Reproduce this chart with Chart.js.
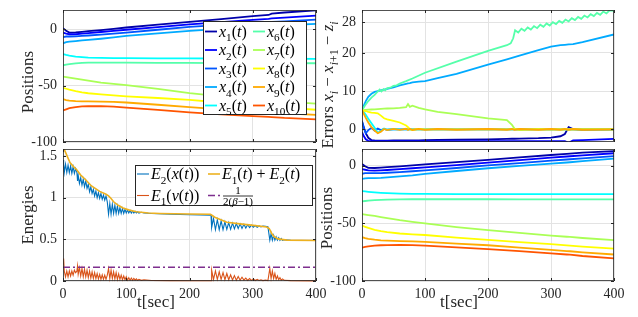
<!DOCTYPE html>
<html>
<head>
<meta charset="utf-8">
<script src="https://cdn.jsdelivr.net/npm/chart.js@4.4.1/dist/chart.umd.min.js"></script>
<style>
  html, body { margin: 0; padding: 0; background: #fff; }
  #fig { position: relative; width: 638px; height: 317px; overflow: hidden; }
  #fig canvas { position: absolute; }
</style>
</head>
<body>
<div id="fig">
  <canvas id="tl" width="320" height="150" style="left:0;top:0"></canvas>
  <canvas id="tr" width="318" height="170" style="left:320px;top:0"></canvas>
  <canvas id="bl" width="340" height="169" style="left:0;top:148px"></canvas>
  <canvas id="br" width="318" height="169" style="left:320px;top:148px"></canvas>
</div>
<script>
// --- data: positions (top-left, jagged controller) ---
const pT = [0, 5, 10, 20, 30, 40, 60, 80, 100, 150, 200, 250, 300, 325, 330, 350, 400];
const x1 = [1, -1.5, -3, -2.8, -2.3, -1.8, -0.8, 0.3, 1.5, 4.0, 6.5, 9.0, 11.5, 12.6, 13.8, 14.8, 16.6];
const x2 = [-3, -4, -4.5, -4.5, -4.0, -3.5, -2.5, -1.5, -0.5, 1.8, 4.2, 6.2, 8.2, 9.1, 9.5, 10.3, 12.0];
const x3 = [-7, -6.5, -6.5, -6.4, -6.0, -5.6, -4.8, -3.9, -3.0, -0.5, 2.0, 3.8, 5.5, 6.2, 6.4, 7.0, 8.4];
const x4 = [-12.5, -11.5, -11, -10.5, -10.0, -9.5, -8.5, -7.3, -6.0, -3.7, -1.5, 0.3, 2.0, 2.7, 2.9, 3.5, 4.7];
const x5 = [-22, -22.8, -23.5, -24.3, -24.8, -25.2, -25.5, -25.6, -25.7, -25.8, -25.9, -26, -26, -26.1, -26.1, -26.2, -26.3];
const x6 = [-32, -31.4, -30.9, -30.3, -29.9, -29.6, -29.6, -29.7, -29.7, -29.8, -29.9, -30, -30, -30, -30, -30.1, -30.2];
const x7 = [-42, -42.4, -42.9, -43.8, -44.7, -45.6, -47.3, -48.5, -49.5, -53, -56.6, -59.5, -62, -63, -63.3, -64.2, -66];
const x8 = [-52, -52.8, -53.6, -55, -56, -56.8, -57.8, -58.7, -59.5, -61, -62.6, -65, -67.5, -68.3, -68.5, -69.5, -71.4];
const x9 = [-62, -62.8, -63.3, -63.8, -64, -64, -64.2, -64.5, -65, -67, -69, -71, -72.8, -73.5, -73.7, -74.5, -76];
const x10 = [-72, -71, -70, -69, -68.5, -68.3, -68.2, -68.6, -69.5, -71.5, -73.8, -75.5, -77, -77.7, -77.9, -78.7, -80];

// --- data: positions (bottom-right, smooth) ---
const b1 = [1.5, -0.5, -1.8, -2.0, -1.6, -1.2, -0.5, 0.3, 1.2, 3.2, 5.0, 7.2, 9.3, 10.3, 10.5, 11.3, 12.7];
const b2 = [-3, -3.5, -4, -4.2, -4.0, -3.7, -3.0, -2.2, -1.4, 0.6, 2.7, 4.8, 7.0, 8.0, 8.2, 9.0, 10.8];
const b3 = [-7, -6.5, -6.4, -6.5, -6.4, -6.1, -5.5, -4.8, -4.0, -2.0, 0.3, 2.2, 4.4, 5.4, 5.6, 6.4, 8.4];
const b4 = [-11.5, -11, -10.8, -10.7, -10.5, -10.1, -9.3, -8.3, -7.0, -4.6, -2.2, -0.2, 1.8, 2.8, 3.0, 4.0, 6.2];
const b5 = [-22, -22.3, -22.6, -23.1, -23.5, -23.8, -24.2, -24.4, -24.5, -24.6, -24.7, -24.7, -24.7, -24.7, -24.7, -24.7, -24.7];
const b6 = [-31, -30.6, -30.3, -29.9, -29.6, -29.4, -29.2, -29.1, -29.1, -29.1, -29.1, -29.2, -29.2, -29.2, -29.2, -29.2, -29.2];
const b7 = [-42, -42.4, -42.8, -43.6, -44.5, -45.4, -47.2, -48.7, -50, -53.2, -55.8, -58.3, -60.6, -61.6, -61.8, -62.7, -64.5];
const b8 = [-52, -53, -54, -55.6, -56.8, -57.6, -58.8, -59.5, -60.1, -62.3, -64.3, -66.2, -68.1, -69.1, -69.3, -70.2, -72];
const b9 = [-62, -62.8, -63.4, -64.2, -64.7, -65, -65.4, -65.7, -66.1, -67.5, -69, -71, -73, -74, -74.2, -75.1, -77];
const b10 = [-71, -70.4, -69.9, -69.3, -69, -68.8, -68.7, -68.9, -69.4, -70.8, -72.3, -74, -76, -77, -77.2, -78.3, -80.3];

// --- data: errors x_i - x_{i+1} - z_i (top-right) ---
const rT = [0, 3, 6, 10, 15, 20, 25, 30, 35, 40, 50, 60, 70, 73, 76, 80, 90, 100, 120, 150, 200, 230, 238, 242, 250, 280, 300, 315, 322, 328, 335, 350, 400];
const e1 = [2.0, 0.5, -1.0, -2.2, -2.8, -2.9, -2.95, -2.95, -2.95, -2.95, -2.9, -2.9, -2.9, -2.9, -2.9, -2.85, -2.85, -2.8, -2.75, -2.7, -2.6, -2.5, -2.45, -2.45, -2.4, -2.3, -2.15, -1.8, -1.2, 0.6, 0.1, -0.1, 0.0];
const e2 = [-0.7, -1.8, -2.6, -3.0, -3.1, -3.1, -3.1, -3.1, -3.1, -3.1, -3.1, -3.1, -3.1, -3.1, -3.1, -3.1, -3.1, -3.1, -3.1, -3.1, -3.1, -3.1, -3.1, -3.1, -3.1, -3.1, -3.1, -3.1, -3.1, -3.5, -2.9, -2.8, -2.5];
const e3 = [2.2, 0.3, -1.0, -0.2, 0.4, -0.3, 0.2, -0.2, 0.1, -0.1, 0, 0, 0, 0, 0, 0, 0, 0, 0, 0, 0, 0, 0, 0, 0, 0, 0, 0, 0, 0, 0, 0, 0];
const e4 = [5.0, 6.3, 7.4, 8.5, 9.3, 9.8, 10.0, 10.2, 10.4, 10.6, 11.0, 11.5, 11.9, 12.0, 12.1, 12.3, 12.5, 12.6, 13.4, 14.5, 16.9, 18.3, 18.7, 18.9, 19.3, 20.7, 21.6, 22.0, 22.1, 22.2, 22.3, 22.8, 24.8];
const e5 = [5.0, 4.5, 3.8, 2.8, 1.6, 0.4, -0.9, -0.4, 0.2, -0.1, 0.1, 0, 0, 0, 0, 0, 0, 0, 0, 0, 0, 0, 0, 0, 0, 0, 0, 0, 0, 0, 0, 0, 0];
const e7 = [5.0, 5.05, 5.1, 5.15, 5.2, 5.25, 5.3, 5.35, 5.4, 5.45, 5.5, 5.6, 5.8, 6.6, 5.9, 6.2, 5.6, 5.2, 4.6, 4.0, 2.9, 2.4, 1.2, 0.2, -0.2, 0.1, 0, 0, 0, 0, 0, 0, 0];
const e8 = [5.0, 4.9, 4.8, 4.6, 4.4, 4.3, 4.2, 3.6, 2.9, 2.6, 2.2, 1.8, 1.0, 0.6, 0.0, -0.1, 0.1, 0, 0, 0, 0, 0, 0, 0, 0, 0, 0, 0, 0, 0, 0, 0, 0];
const e9 = [5.0, 4.0, 3.0, 1.8, 0.6, -0.3, -1.0, -0.6, 0.1, -0.2, 0.15, -0.15, 0.15, -0.15, 0.15, -0.15, 0.15, -0.15, 0.1, -0.1, 0.1, -0.1, 0.1, -0.1, 0.1, -0.1, 0.1, -0.1, 0.1, -0.1, 0.1, -0.1, 0];
// the growing green error has its own, denser time base (it wiggles)
const gT = [0, 5, 10, 15, 20, 25, 28, 31, 34, 37, 40, 45, 50, 55, 60, 70, 80, 100, 150, 200, 230, 236, 240,
  243, 248, 253, 258, 263, 268, 273, 278, 283, 288, 293, 298, 303, 308, 313, 318, 323, 328, 333, 338, 343,
  348, 353, 358, 363, 368, 373, 378, 383, 388, 393, 400];
const e6 = [5.0, 6.3, 7.4, 8.3, 9.0, 9.9, 10.4, 9.9, 10.5, 10.2, 10.8, 10.9, 11.4, 11.5, 12.0, 12.6, 13.3, 14.8, 17.7, 20.5, 22.0, 22.5, 23.8,
  25.9, 25.3, 26.3, 25.75, 26.65, 26.1, 27.0, 26.45, 27.35, 26.8, 27.7, 27.15, 28.0, 27.5, 28.35, 27.85, 28.7,
  28.2, 29.05, 28.55, 29.4, 28.9, 29.75, 29.25, 30.1, 29.6, 30.45, 29.95, 30.8, 30.3, 31.1, 31.0];

// --- data: energies (bottom-left) ---
const eT = [0, 1, 2, 4, 6, 8, 10, 12, 14, 16, 18, 20, 22, 23,
  24, 26, 28, 30, 32, 34, 36, 38, 40, 42, 44, 46, 48, 50, 52, 54, 56, 58, 60, 62, 64, 66, 68, 70,
  72, 74, 76, 78, 80, 82, 84, 86, 88, 90, 92, 94, 96, 98, 100, 102, 104, 106, 108, 110, 112, 114, 116, 118, 120,
  124, 128, 140, 170, 200, 234,
  235, 238, 241, 244, 247, 250, 253, 256, 259, 262, 265, 268, 271, 274, 277, 280, 283, 286, 289, 292, 295, 298, 301, 304, 307, 310, 313, 316,
  320, 324,
  327, 329, 331, 333, 335, 337, 339, 341, 343, 345, 347,
  350, 360, 400];
const E2 = [1.45, 1.40,
  1.30, 1.40, 1.30, 1.39, 1.30, 1.38, 1.29, 1.37, 1.29, 1.35,
  1.30, 1.20,
  1.27, 1.17, 1.24, 1.15, 1.22, 1.13, 1.20, 1.11, 1.16, 1.07, 1.13, 1.05, 1.10, 1.02, 1.08, 1.00, 1.06, 0.99, 1.05, 0.98, 1.03, 0.97, 1.02, 0.95,
  0.80, 0.93, 0.80, 0.92, 0.81, 0.91, 0.81, 0.90, 0.81, 0.88, 0.81, 0.87, 0.81, 0.86, 0.815, 0.85, 0.815, 0.845, 0.815, 0.84, 0.815, 0.835, 0.815, 0.83, 0.815,
  0.825, 0.815, 0.81, 0.80, 0.795, 0.79,
  0.64, 0.75, 0.615, 0.735, 0.615, 0.72, 0.615, 0.71, 0.62, 0.70, 0.62, 0.695, 0.625, 0.69, 0.63, 0.685, 0.63, 0.68, 0.635, 0.675, 0.64, 0.67, 0.645, 0.665, 0.645, 0.66, 0.65, 0.66,
  0.655, 0.65,
  0.49, 0.57, 0.49, 0.55, 0.49, 0.53, 0.49, 0.52, 0.488, 0.51, 0.488,
  0.495, 0.487, 0.485];
const E1 = [0.20, 0.27,
  0.12, 0.05, 0.12, 0.05, 0.12, 0.06, 0.12, 0.07, 0.13, 0.10,
  0.12, 0.18,
  0.08, 0.16, 0.06, 0.15, 0.05, 0.14, 0.05, 0.13, 0.04, 0.12, 0.035, 0.11, 0.03, 0.10, 0.03, 0.09, 0.025, 0.08, 0.02, 0.075, 0.02, 0.07, 0.02, 0.07,
  0.15, 0.03, 0.13, 0.03, 0.11, 0.025, 0.10, 0.02, 0.085, 0.02, 0.07, 0.015, 0.06, 0.015, 0.05, 0.01, 0.04, 0.01, 0.035, 0.01, 0.03, 0.01, 0.025, 0.008, 0.02,
  0.008, 0.015, 0.006, 0.004, 0.003, 0.003,
  0.13, 0.02, 0.12, 0.02, 0.11, 0.02, 0.10, 0.015, 0.09, 0.015, 0.075, 0.012, 0.065, 0.01, 0.055, 0.01, 0.045, 0.01, 0.035, 0.008, 0.03, 0.008, 0.025, 0.006, 0.02, 0.006, 0.015, 0.005,
  0.01, 0.005,
  0.15, 0.03, 0.12, 0.03, 0.09, 0.02, 0.06, 0.015, 0.04, 0.01, 0.025,
  0.008, 0.004, 0.002];
const sT = [0, 3, 11, 18, 21, 24, 28, 35, 45, 58, 68, 72, 76, 80, 88, 95, 105, 116, 135, 153, 200, 233, 236, 240, 259, 280, 301, 322, 326, 330, 334, 340, 354, 400];
const Esum = [1.62, 1.56, 1.42, 1.36, 1.34, 1.31, 1.27, 1.22, 1.14, 1.075, 1.04, 1.02, 0.99, 0.95, 0.905, 0.875, 0.85, 0.83, 0.815, 0.81,
  0.803, 0.80, 0.785, 0.765, 0.705, 0.685, 0.667, 0.648, 0.63, 0.57, 0.53, 0.505, 0.49, 0.485];
const betaT = [0, 400];
const betaV = [0.165, 0.165];

// --- axes ---
const tTicks = [0, 100, 200, 300, 400];
const posTicks = [-100, -50, 0];
const errTicks = [0, 10, 20, 28];
const enTicks = [0, 0.5, 1, 1.5];

const SERIF = '"Liberation Serif", "DejaVu Serif", serif';
const INK = '#262626';
const GRID = '#e3e3e3';
const jet = ['#0000AA', '#0000FF', '#0055FF', '#00AAFF', '#00FFFF', '#55FFAA', '#AAFF55', '#FFFF00', '#FFAA00', '#FF5500'];

function pts(ts, vs) {
  return ts.map((t, i) => ({ x: t, y: vs[i] }));
}

// draws a list of [text, style] pieces; style r/i = roman/italic, sr/si = subscript
function rich(ctx, segs, x, y, size, align) {
  const parts = segs.map(([t, st]) => {
    const sub = st[0] === 's';
    const fs = sub ? size * 0.7 : size;
    const font = (st.endsWith('i') ? 'italic ' : '') + fs + 'px ' + SERIF;
    ctx.font = font;
    return { t, font, w: ctx.measureText(t).width, dy: sub ? size * 0.28 : 0 };
  });
  const total = parts.reduce((s, p) => s + p.w, 0);
  let cx = align === 'center' ? x - total / 2 : x;
  ctx.textAlign = 'left';
  ctx.textBaseline = 'alphabetic';
  parts.forEach(p => {
    ctx.font = p.font;
    ctx.fillText(p.t, cx, y + p.dy);
    cx += p.w;
  });
  return total;
}

function drawLegend(ctx, chart, L) {
  ctx.fillStyle = '#fff';
  ctx.fillRect(L.x, L.y, L.w, L.h);
  ctx.strokeStyle = INK;
  ctx.lineWidth = 1;
  ctx.strokeRect(L.x + 0.5, L.y + 0.5, L.w, L.h);
  L.items.forEach(it => {
    const ds = chart.data.datasets[it.ds];
    ctx.strokeStyle = ds.borderColor;
    ctx.lineWidth = ds.borderWidth;
    ctx.setLineDash(ds.borderDash || []);
    ctx.beginPath();
    ctx.moveTo(it.x, it.y);
    ctx.lineTo(it.x + L.line, it.y);
    ctx.stroke();
    ctx.setLineDash([]);
    ctx.fillStyle = '#000';
    const tx = it.x + L.line + 2;
    if (it.frac) {
      // 1 / (2(beta-1)) as a small stacked fraction
      const fs = 11;
      const den = [['2(', 'r'], ['β', 'i'], ['−1)', 'r']];
      const w = rich(ctx, den, tx + 1, it.y + 9, fs, 'left');
      rich(ctx, [['1', 'r']], tx + 1 + w / 2, it.y - 1.5, fs, 'center');
      ctx.lineWidth = 0.8;
      ctx.strokeStyle = '#000';
      ctx.beginPath();
      ctx.moveTo(tx + 1, it.y + 0.5);
      ctx.lineTo(tx + 1 + w, it.y + 0.5);
      ctx.stroke();
    } else {
      rich(ctx, it.segs, tx, it.y + L.size * 0.33, L.size, 'left');
    }
  });
}

const decor = {
  id: 'decor',
  afterDraw(chart, args, o) {
    const { ctx, chartArea: a, scales } = chart;
    ctx.save();
    // inside tick marks + axes box
    ctx.strokeStyle = INK;
    ctx.lineWidth = 1;
    ctx.beginPath();
    scales.x.ticks.forEach(t => {
      const px = Math.round(scales.x.getPixelForValue(t.value)) + 0.5;
      ctx.moveTo(px, a.bottom); ctx.lineTo(px, a.bottom - 3);
      ctx.moveTo(px, a.top); ctx.lineTo(px, a.top + 3);
    });
    scales.y.ticks.forEach(t => {
      const py = Math.round(scales.y.getPixelForValue(t.value)) + 0.5;
      ctx.moveTo(a.left, py); ctx.lineTo(a.left + 3, py);
      ctx.moveTo(a.right, py); ctx.lineTo(a.right - 3, py);
    });
    ctx.stroke();
    ctx.strokeStyle = 'rgba(38,38,38,0.8)';
    ctx.strokeRect(a.left + 0.5, a.top + 0.5, a.width - 1, a.height - 1);

    if (o.legend) drawLegend(ctx, chart, o.legend);

    ctx.fillStyle = INK;
    if (o.ylab) {
      ctx.save();
      ctx.translate(o.ylab.x, o.ylab.y);
      ctx.rotate(-Math.PI / 2);
      rich(ctx, o.ylab.segs, 0, 0, 17, 'center');
      ctx.restore();
    }
    if (o.xlab) {
      rich(ctx, o.xlab.segs, o.xlab.x, o.xlab.y, 17, 'center');
    }
    ctx.restore();
  }
};

function line(data, color, width, i, extra) {
  return Object.assign({
    data: data,
    borderColor: color,
    backgroundColor: color,
    borderWidth: width,
    pointRadius: 0,
    tension: 0,
    fill: false,
    clip: 0,
    order: -i
  }, extra || {});
}

function makeChart(id, c) {
  return new Chart(document.getElementById(id), {
    type: 'line',
    data: { datasets: c.datasets },
    plugins: [decor],
    options: {
      responsive: false,
      animation: false,
      devicePixelRatio: 1,
      layout: { padding: c.pad },
      plugins: {
        legend: { display: false },
        tooltip: { enabled: false },
        decor: c.decor
      },
      scales: {
        x: {
          type: 'linear',
          min: 0,
          max: 400,
          border: { display: false },
          grid: { color: GRID, drawTicks: false },
          ticks: {
            display: c.xTicks,
            padding: 5,
            color: INK,
            font: { family: SERIF, size: 14 },
            callback: v => String(v)
          },
          afterBuildTicks: s => { s.ticks = tTicks.map(v => ({ value: v })); },
          afterFit: s => { s.height = c.xh; s.paddingLeft = 0; s.paddingRight = 0; }
        },
        y: {
          type: 'linear',
          min: c.ymin,
          max: c.ymax,
          border: { display: false },
          grid: { color: GRID, drawTicks: false },
          ticks: {
            padding: 6,
            color: INK,
            font: { family: SERIF, size: 14 },
            callback: v => String(v)
          },
          afterBuildTicks: s => { s.ticks = c.yticks.map(v => ({ value: v })); },
          afterFit: s => { s.width = c.yw; s.paddingTop = 0; s.paddingBottom = 0; }
        }
      }
    }
  });
}

const posX = [x1, x2, x3, x4, x5, x6, x7, x8, x9, x10];
const posB = [b1, b2, b3, b4, b5, b6, b7, b8, b9, b10];
const sub = n => [['x', 'i'], [String(n), 'sr'], ['(', 'r'], ['t', 'i'], [')', 'r']];

function drawAll() {
  // top-left: positions with legend
  const tlItems = [];
  for (let i = 0; i < 10; i++) {
    tlItems.push({ ds: i, x: i < 5 ? 205 : 253, y: 31.5 + (i % 5) * 18.5, segs: sub(i + 1) });
  }
  makeChart('tl', {
    datasets: posX.map((v, i) => line(pts(pT, v), jet[i], 1.8, i)),
    pad: { left: 0, right: 4, top: 10, bottom: 8 },
    xTicks: false, xh: 0, yw: 63,
    ymin: -100, ymax: 17, yticks: posTicks,
    decor: {
      legend: { x: 203, y: 21, w: 103, h: 93, line: 12, size: 16, items: tlItems },
      ylab: { x: 33, y: 82, segs: [['Positions', 'r']] }
    }
  });

  // top-right: errors
  const errSets = [e1, e2, e3, e4, e5, e6, e7, e8, e9];
  makeChart('tr', {
    datasets: errSets.map((v, i) => line(pts(i === 5 ? gT : rT, v), jet[i], 1.8, i)),
    pad: { left: 0, right: 24, top: 10, bottom: 28 },
    xTicks: false, xh: 0, yw: 42,
    ymin: -3.3, ymax: 31.2, yticks: errTicks,
    decor: {
      ylab: {
        x: 13, y: 85,
        segs: [['Errors ', 'r'], ['x', 'i'], ['i', 'si'], [' − ', 'r'], ['x', 'i'], ['i', 'si'], ['+1', 'sr'], [' − ', 'r'], ['z', 'i'], ['i', 'si']]
      }
    }
  });

  // bottom-left: energies
  makeChart('bl', {
    datasets: [
      line(pts(eT, E2), '#0072BD', 1.1, 0),
      line(pts(eT, E1), '#D95319', 1.1, 1, { clip: { left: 0, top: 0, right: 0, bottom: 3 } }),
      line(pts(sT, Esum), '#EDB120', 1.6, 2),
      line(pts(betaT, betaV), '#7E2F8E', 1.6, 3, { borderDash: [7, 3, 2, 3] })
    ],
    pad: { left: 0, right: 24, top: 1, bottom: 0 },
    xTicks: true, xh: 36, yw: 63,
    ymin: 0, ymax: 1.583, yticks: enTicks,
    decor: {
      legend: {
        x: 135, y: 17, w: 177, h: 40, line: 12, size: 16,
        items: [
          { ds: 0, x: 137, y: 26, segs: [['E', 'i'], ['2', 'sr'], ['(', 'r'], ['x', 'i'], ['(', 'r'], ['t', 'i'], ['))', 'r']] },
          { ds: 1, x: 137, y: 47.5, segs: [['E', 'i'], ['1', 'sr'], ['(', 'r'], ['v', 'i'], ['(', 'r'], ['t', 'i'], ['))', 'r']] },
          { ds: 2, x: 208, y: 26, segs: [['E', 'i'], ['1', 'sr'], ['(', 'r'], ['t', 'i'], [') + ', 'r'], ['E', 'i'], ['2', 'sr'], ['(', 'r'], ['t', 'i'], [')', 'r']] },
          { ds: 3, x: 208, y: 47.5, frac: true }
        ]
      },
      ylab: { x: 33, y: 67, segs: [['Energies', 'r']] },
      xlab: { x: 156, y: 159, segs: [['t[sec]', 'r']] }
    }
  });

  // bottom-right: positions (smooth)
  makeChart('br', {
    datasets: posB.map((v, i) => line(pts(pT, v), jet[i], 1.8, i)),
    pad: { left: 0, right: 24, top: 1, bottom: 0 },
    xTicks: true, xh: 36, yw: 42,
    ymin: -100, ymax: 14.5, yticks: posTicks,
    decor: {
      ylab: { x: 12, y: 70, segs: [['Positions', 'r']] },
      xlab: { x: 139, y: 159, segs: [['t[sec]', 'r']] }
    }
  });
}

// make sure the serif faces are ready before the canvases are painted
Promise.all([
  document.fonts.load('14px "Liberation Serif"'),
  document.fonts.load('italic 16px "Liberation Serif"')
]).catch(() => {}).then(drawAll);
</script>
</body>
</html>
